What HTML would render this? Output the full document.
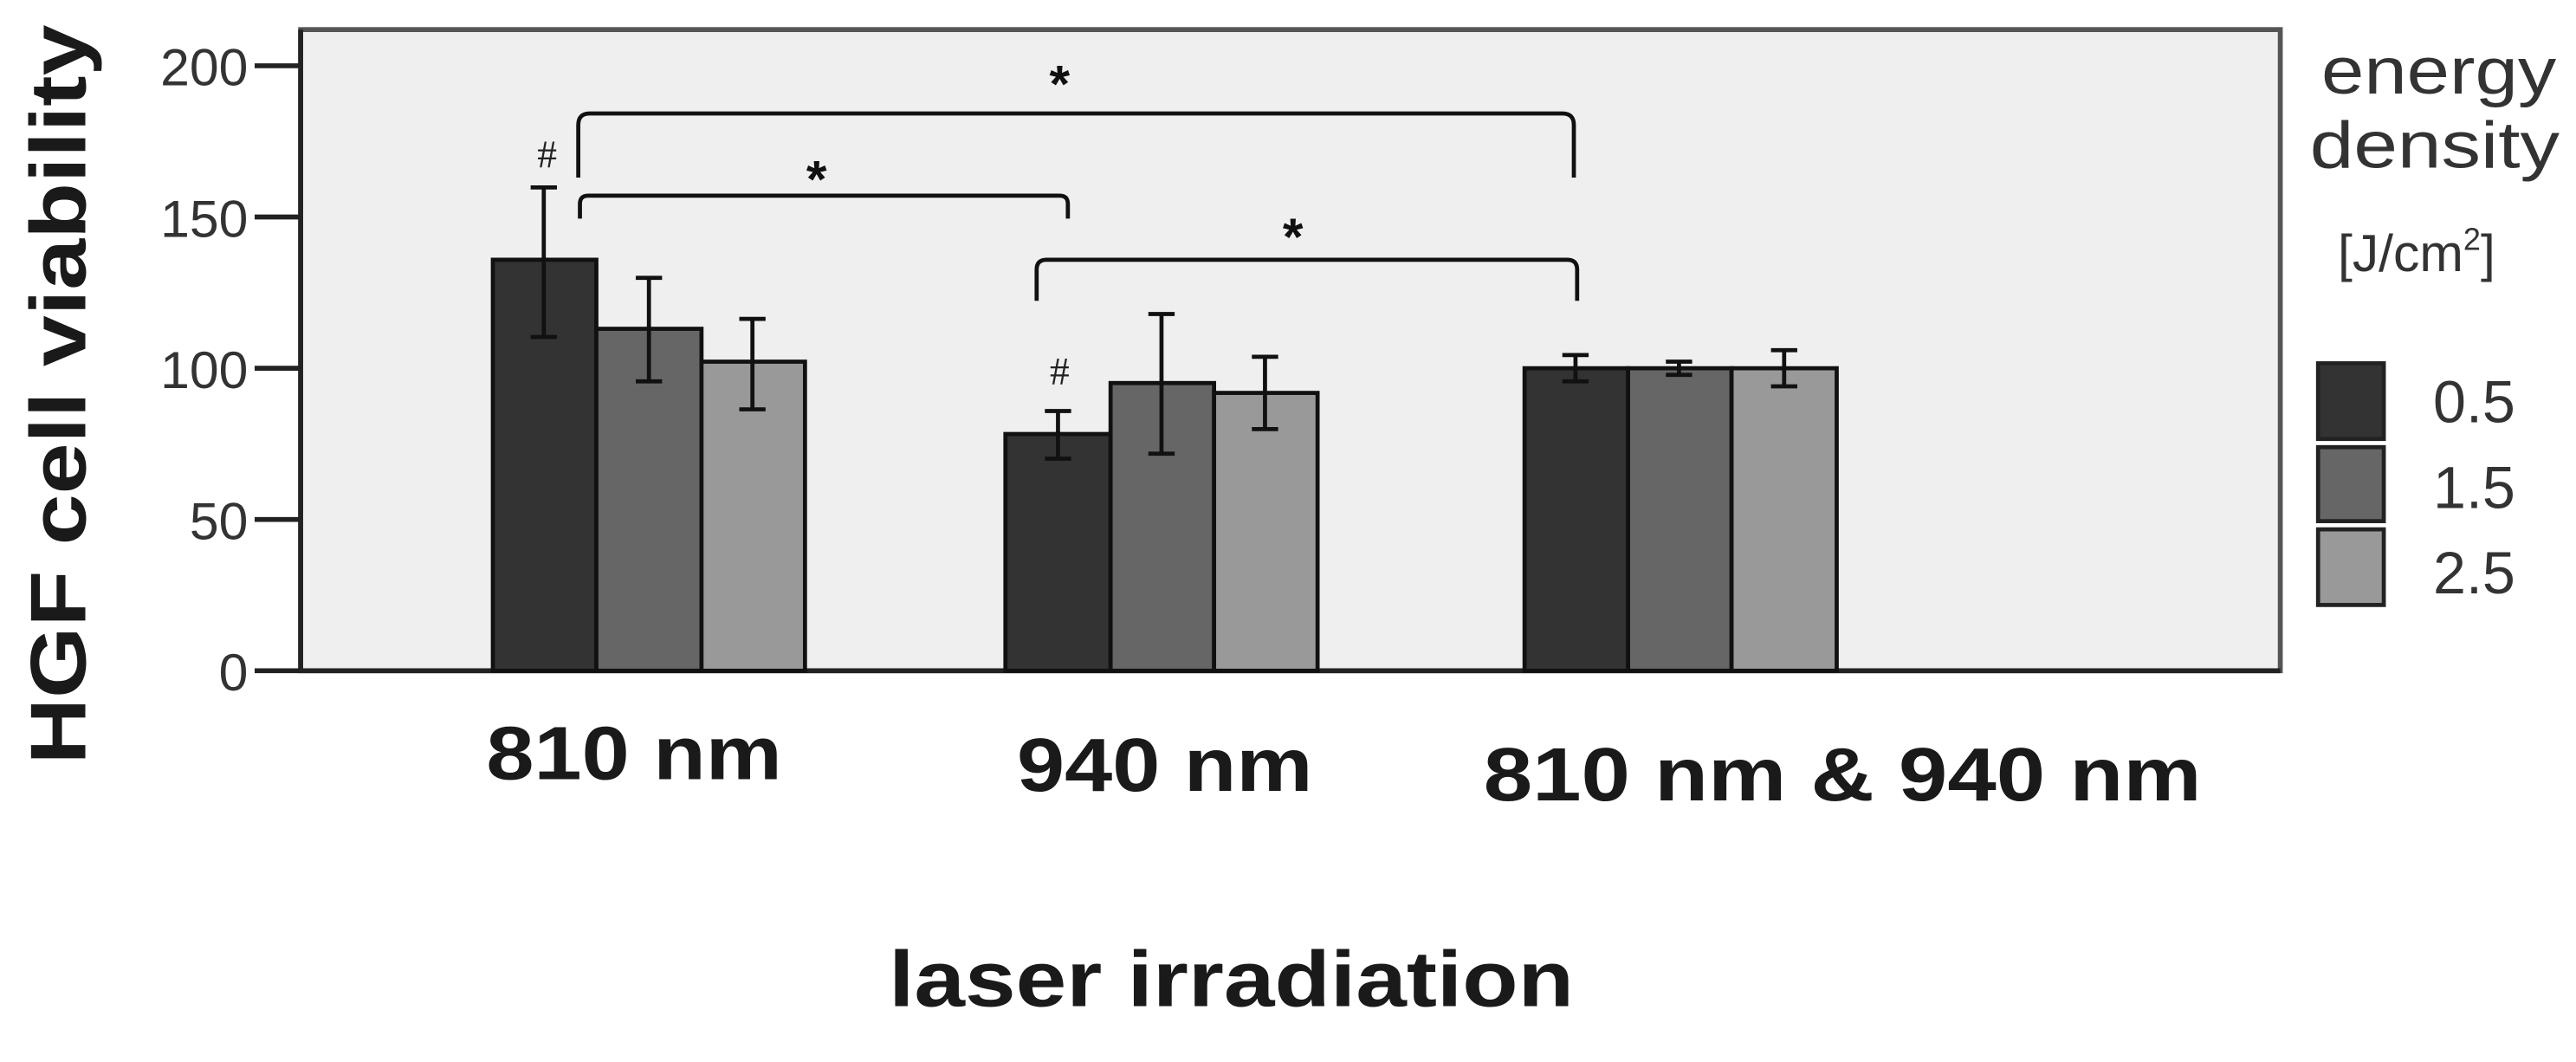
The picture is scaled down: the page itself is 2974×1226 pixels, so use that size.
<!DOCTYPE html>
<html><head><meta charset="utf-8"><style>
html,body{margin:0;padding:0;background:#fff;}
svg{display:block;}
text{font-family:"Liberation Sans",Arial,sans-serif;}
</style></head><body>
<svg width="2974" height="1226" viewBox="0 0 1568 646" preserveAspectRatio="none" xmlns="http://www.w3.org/2000/svg">
<rect x="0" y="0" width="1568" height="646" fill="#fff"/>
<rect x="183" y="18" width="1205" height="390" fill="#efefef" stroke="#555" stroke-width="3"/>
<line x1="183" y1="18" x2="183" y2="409" stroke="#222" stroke-width="3"/>
<line x1="155" y1="408" x2="1388" y2="408" stroke="#222" stroke-width="3"/>
<g stroke="#222" stroke-width="3">
<line x1="155" y1="40" x2="183" y2="40"/>
<line x1="155" y1="132" x2="183" y2="132"/>
<line x1="155" y1="224" x2="183" y2="224"/>
<line x1="155" y1="316" x2="183" y2="316"/>
</g>
<g font-size="32" fill="#333" text-anchor="end">
<text x="151" y="52">200</text>
<text x="151" y="144">150</text>
<text x="151" y="236">100</text>
<text x="151" y="328">50</text>
<text x="151" y="420">0</text>
</g>
<g stroke="#111" stroke-width="2.5">
<rect x="300" y="158" width="63" height="250" fill="#333"/>
<rect x="363" y="200" width="64" height="208" fill="#666"/>
<rect x="427" y="220" width="63" height="188" fill="#999"/>
<rect x="612" y="264" width="64" height="144" fill="#333"/>
<rect x="676" y="233" width="63" height="175" fill="#666"/>
<rect x="739" y="239" width="63" height="169" fill="#999"/>
<rect x="928" y="224" width="63" height="184" fill="#333"/>
<rect x="991" y="224" width="63" height="184" fill="#666"/>
<rect x="1054" y="224" width="64" height="184" fill="#999"/>
</g>
<g stroke="#111" stroke-width="2.5" fill="none">
<path d="M331 114V205M323 114H339M323 205H339"/>
<path d="M395 169V232M387 169H403M387 232H403"/>
<path d="M458 194V249M450 194H466M450 249H466"/>
<path d="M644 250V279M636 250H652M636 279H652"/>
<path d="M707 191V276M699 191H715M699 276H715"/>
<path d="M770 217V261M762 217H778M762 261H778"/>
<path d="M959 216V232M951 216H967M951 232H967"/>
<path d="M1022 220V228M1014 220H1030M1014 228H1030"/>
<path d="M1086 213V235M1078 213H1094M1078 235H1094"/>
</g>
<g stroke="#111" stroke-width="2.5" fill="none">
<path d="M352 108V76Q352 69 359 69H951Q958 69 958 76V108"/>
<path d="M353 133V124Q353 119 358 119H645Q650 119 650 124V133"/>
<path d="M631 183V164Q631 158 637 158H954Q960 158 960 164V183"/>
</g>
<g font-size="32" font-weight="bold" fill="#111" text-anchor="middle">
<text x="645" y="62">*</text>
<text x="497" y="120">*</text>
<text x="787" y="155">*</text>
</g>
<g font-size="24" fill="#222" text-anchor="middle">
<text x="333" y="102" style="font-family:'Liberation Serif',serif">#</text>
<text x="645" y="234" style="font-family:'Liberation Serif',serif">#</text>
</g>
<g font-size="46" font-weight="bold" fill="#1a1a1a">
<text x="296" y="474" textLength="180" lengthAdjust="spacingAndGlyphs">810 nm</text>
<text x="619" y="481" textLength="180" lengthAdjust="spacingAndGlyphs">940 nm</text>
<text x="903" y="487" textLength="437" lengthAdjust="spacingAndGlyphs">810 nm &amp; 940 nm</text>
<text x="541" y="612" font-size="48" textLength="417" lengthAdjust="spacingAndGlyphs">laser irradiation</text>
</g>
<text transform="translate(52,465) rotate(-90)" font-size="48" font-weight="bold" fill="#1a1a1a" textLength="450" lengthAdjust="spacingAndGlyphs">HGF cell viability</text>
<g fill="#333">
<text x="1413" y="57" font-size="40" textLength="143" lengthAdjust="spacingAndGlyphs">energy</text>
<text x="1406" y="102" font-size="40" textLength="152" lengthAdjust="spacingAndGlyphs">density</text>
<text x="1423" y="165" font-size="32">[J/cm<tspan font-size="19" dy="-13">2</tspan><tspan dy="13">]</tspan></text>
</g>
<g stroke="#222" stroke-width="2.5">
<rect x="1411" y="221" width="40" height="46" fill="#333"/>
<rect x="1411" y="272" width="40" height="45" fill="#666"/>
<rect x="1411" y="322" width="40" height="46" fill="#999"/>
</g>
<g font-size="36" fill="#333">
<text x="1481" y="257">0.5</text>
<text x="1481" y="309">1.5</text>
<text x="1481" y="361">2.5</text>
</g>
</svg>
</body></html>
